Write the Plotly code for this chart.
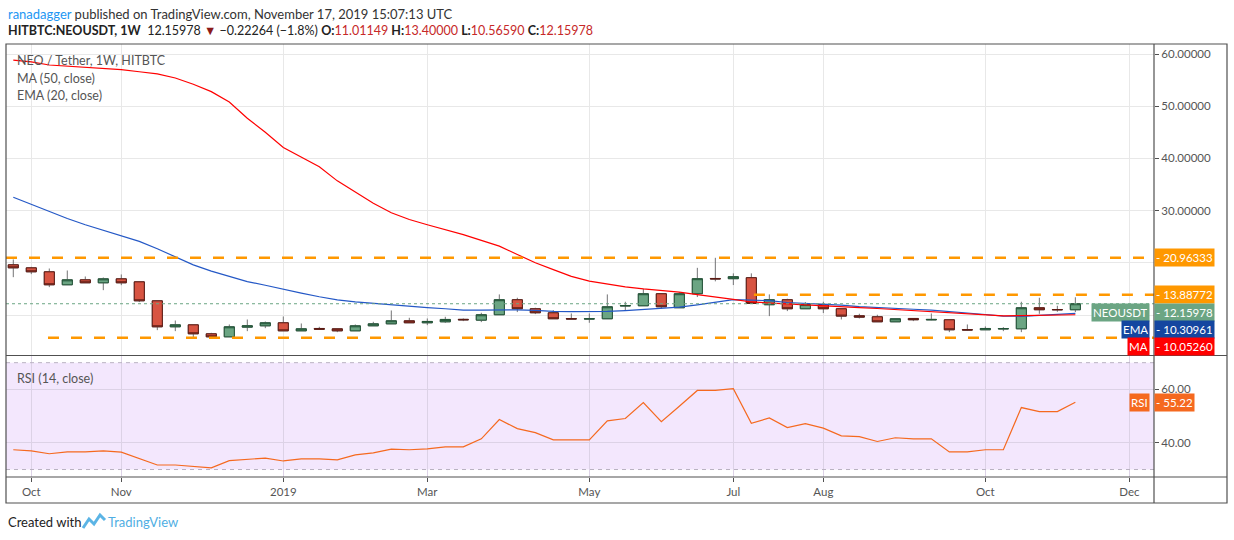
import numpy as np
import pandas as pd
import plotly.graph_objects as go

# weekly bars, NEO / Tether (HITBTC), 1W
weeks = pd.date_range("2018-09-24", periods=60, freq="7D")

opens = [19.62, 19.04, 18.28, 15.79, 16.74, 16.17, 16.93, 16.36, 12.72, 7.74,
         8.12, 6.40, 5.82, 7.68, 7.93, 8.51, 6.97, 7.42, 7.36, 6.97,
         7.93, 8.31, 8.89, 8.51, 8.70, 9.17, 9.02, 10.05, 12.93, 11.20,
         10.43, 9.31, 9.25, 9.28, 11.74, 11.77, 14.08, 11.39, 14.08, 17.00,
         16.96, 17.15, 11.97, 12.93, 11.20, 12.03, 11.20, 9.86, 9.66, 8.70,
         9.34, 9.06, 9.09, 7.20, 7.17, 7.33, 7.36, 11.39, 11.05, 11.01149]
highs = [20.64, 19.23, 18.91, 18.53, 17.38, 17.19, 17.77, 16.36, 12.72, 8.95,
         8.12, 6.59, 8.19, 9.14, 8.76, 9.72, 8.38, 7.74, 7.36, 8.19,
         8.70, 10.87, 9.47, 9.34, 9.66, 9.34, 10.43, 13.95, 13.31, 11.39,
         10.94, 10.30, 10.30, 13.95, 12.54, 15.04, 14.08, 14.40, 19.04, 20.96,
         17.98, 17.98, 13.95, 13.12, 12.48, 12.54, 11.20, 10.24, 10.05, 9.28,
         9.34, 10.30, 9.09, 8.19, 7.81, 7.68, 12.54, 13.31, 11.78, 13.40000]
lows = [17.25, 17.83, 15.34, 15.79, 16.17, 14.76, 15.72, 12.47, 7.10, 6.91,
        5.76, 5.82, 5.82, 6.91, 7.48, 6.97, 6.97, 7.29, 6.72, 6.97,
        7.93, 8.31, 8.51, 8.06, 8.51, 8.83, 8.64, 10.05, 10.56, 10.18,
        9.28, 9.25, 8.51, 9.28, 10.94, 11.77, 11.20, 11.39, 13.44, 16.45,
        15.74, 12.22, 9.79, 10.75, 11.20, 10.37, 9.15, 9.34, 8.70, 8.70,
        8.83, 9.00, 6.72, 7.04, 7.17, 6.91, 6.72, 10.24, 10.62, 10.56590]
closes = [19.04, 18.28, 15.79, 16.74, 16.17, 16.93, 16.17, 12.72, 7.74, 8.12,
          6.40, 5.82, 7.74, 7.93, 8.51, 6.97, 7.36, 7.29, 6.97, 7.93,
          8.31, 8.89, 8.51, 8.77, 9.15, 9.09, 10.05, 12.93, 11.20, 10.43,
          9.28, 9.25, 9.28, 11.58, 11.80, 14.08, 11.58, 14.08, 16.96, 16.92,
          17.34, 12.22, 12.93, 11.20, 12.03, 11.20, 9.79, 9.60, 8.70, 9.28,
          9.09, 9.15, 7.17, 7.14, 7.42, 7.40, 11.39, 11.01, 11.01, 12.15978]

ma50 = [58.85, 58.5, 57.9, 57.7, 57.45, 57.2, 57.0, 56.6, 56.2, 55.4,
        54.2, 52.8, 50.8, 47.7, 45.0, 42.1, 40.2, 38.4, 35.7, 33.6,
        31.4, 29.6, 28.3, 27.3, 26.4, 25.4, 24.3, 23.2, 21.6, 20.0,
        18.7, 17.4, 16.5, 15.9, 15.4, 15.0, 14.7, 14.4, 13.9, 13.5,
        13.0, 12.5, 12.3, 12.1, 11.9, 11.75, 11.55, 11.4, 11.25, 11.05,
        10.8, 10.6, 10.4, 10.25, 10.1, 9.85, 9.9, 9.95, 10.0, 10.0526]
ema20 = [32.55, 31.2, 29.8, 28.5, 27.3, 26.2, 25.2, 24.1, 22.7, 21.1,
         19.6, 18.4, 17.4, 16.4, 15.7, 14.9, 14.2, 13.5, 12.9, 12.5,
         12.2, 11.9, 11.65, 11.4, 11.2, 10.95, 10.95, 11.0, 11.0, 10.9,
         10.7, 10.65, 10.62, 10.7, 10.85, 11.07, 11.3, 11.52, 11.95, 12.4,
         12.95, 12.85, 12.75, 12.4, 12.25, 12.1, 11.9, 11.6, 11.4, 11.25,
         11.1, 10.95, 10.7, 10.4, 10.1, 9.8, 9.75, 9.95, 10.15, 10.30961]
rsi14 = [37.4, 37.0, 35.9, 36.6, 36.6, 37.0, 36.5, 34.2, 31.7, 31.7,
         31.1, 30.6, 33.3, 33.7, 34.3, 33.2, 34.0, 34.0, 33.6, 35.5,
         36.2, 37.6, 37.4, 37.7, 38.5, 38.5, 41.5, 48.7, 45.3, 43.8,
         41.1, 41.1, 41.1, 48.2, 49.1, 55.1, 47.9, 53.7, 59.6, 59.6,
         60.25, 47.3, 49.3, 45.7, 47.2, 45.5, 42.6, 42.3, 40.5, 41.9,
         41.5, 41.5, 36.6, 36.6, 37.4, 37.4, 53.2, 51.7, 51.7, 55.22]

resistance_top = 20.96333
resistance_mid = 13.88772
support_low = 5.63
mid_start = "2019-07-09"
low_start = "2018-10-07 12:00"

tick_dates = ["2018-10-01", "2018-11-05", "2019-01-07", "2019-03-04", "2019-05-06",
              "2019-07-01", "2019-08-05", "2019-10-07", "2019-12-02"]
tick_text = ["Oct", "Nov", "2019", "Mar", "May", "Jul", "Aug", "Oct", "Dec"]
x_range = ["2018-09-21 04:00", "2019-12-11 14:00"]

price_ticks = [10, 20, 30, 40, 50, 60]
# 10 and 20 sit behind the coloured price labels
price_tick_text = ["", "", "30.00000", "40.00000", "50.00000", "60.00000"]

FONT = "Lato"
ORANGE = "#FF9800"
GREEN = "#6BA583"
RED = "#D75442"
EMA_BLUE = "#1446A0"
RSI_ORANGE = "#F5691F"

# pixel -> paper helpers (plot area is 6..1154 x 44..477)
L, R, T, B = 6, 1154, 44, 477


def px(x):
    return (x - L) / (R - L)


def py(y):
    return (B - y) / (B - T)


fig = go.Figure()

# wicks (grey) underneath, bodies on top
fig.add_trace(go.Candlestick(
    x=weeks, open=opens, high=highs, low=lows, close=closes,
    increasing=dict(line=dict(color="#737375", width=1), fillcolor="#737375"),
    decreasing=dict(line=dict(color="#737375", width=1), fillcolor="#737375"),
    whiskerwidth=0, hoverinfo="skip", xaxis="x", yaxis="y"))
fig.add_trace(go.Candlestick(
    x=weeks, open=opens, close=closes,
    high=np.maximum(opens, closes), low=np.minimum(opens, closes),
    increasing=dict(line=dict(color="#225437", width=1), fillcolor=GREEN),
    decreasing=dict(line=dict(color="#5B1A13", width=1), fillcolor=RED),
    whiskerwidth=0, xaxis="x", yaxis="y"))

fig.add_trace(go.Scatter(x=weeks, y=ema20, mode="lines",
                         line=dict(color="#2458C6", width=1.2), xaxis="x", yaxis="y"))
fig.add_trace(go.Scatter(x=weeks, y=ma50, mode="lines",
                         line=dict(color="#FF0000", width=1.2), xaxis="x", yaxis="y"))
fig.add_trace(go.Scatter(x=weeks, y=rsi14, mode="lines",
                         line=dict(color=RSI_ORANGE, width=1.2), xaxis="x2", yaxis="y2"))

shapes = [
    # RSI band
    dict(type="rect", xref="paper", yref="y2", x0=0, x1=1, y0=30, y1=70,
         fillcolor="#F3E7FD", line=dict(width=0), layer="below"),
    dict(type="line", xref="paper", yref="y2", x0=0, x1=1, y0=70, y1=70,
         line=dict(color="#B9B2C2", width=1, dash="4px,4px")),
    dict(type="line", xref="paper", yref="y2", x0=0, x1=1, y0=30, y1=30,
         line=dict(color="#B9B2C2", width=1, dash="4px,4px")),
    # horizontal levels
    dict(type="line", xref="paper", yref="y", x0=0, x1=1, y0=resistance_top, y1=resistance_top,
         line=dict(color=ORANGE, width=2.5, dash="11px,12px")),
    dict(type="line", xref="x", yref="y", x0=mid_start, x1=x_range[1],
         y0=resistance_mid, y1=resistance_mid,
         line=dict(color=ORANGE, width=2.5, dash="11px,12px")),
    dict(type="line", xref="x", yref="y", x0=low_start, x1=x_range[1],
         y0=support_low, y1=support_low,
         line=dict(color=ORANGE, width=2.5, dash="11px,12px")),
    dict(type="line", xref="paper", yref="y", x0=0, x1=1, y0=closes[-1], y1=closes[-1],
         line=dict(color=GREEN, width=1, dash="dot")),
    # frame
    dict(type="rect", xref="paper", yref="paper", x0=0, x1=px(1227), y0=py(503), y1=1,
         line=dict(color="#505050", width=1.2)),
    dict(type="line", xref="paper", yref="paper", x0=1, x1=1, y0=py(503), y1=1,
         line=dict(color="#505050", width=1.2)),
    dict(type="line", xref="paper", yref="paper", x0=0, x1=px(1227), y0=py(355.5), y1=py(355.5),
         line=dict(color="#505050", width=1.2)),
    dict(type="line", xref="paper", yref="paper", x0=0, x1=px(1227), y0=0, y1=0,
         line=dict(color="#505050", width=1.2)),
    # TradingView logo squiggle
    dict(type="path", xref="paper", yref="paper",
         path="M {} {} L {} {} L {} {} L {} {} L {} {}".format(
             px(83), py(528), px(89), py(519), px(94), py(524), px(100), py(515), px(105), py(520)),
         line=dict(color="#5BB4E5", width=3)),
]

red = "#C62828"
header2 = ("<b>HITBTC:NEOUSDT, 1W</b>  {c:.5f} <span style='color:#8B1A1A'>▼</span> "
           "−0.22264 (−1.8%) <b>O:</b><span style='color:{r}'>{o:.5f}</span> "
           "<b>H:</b><span style='color:{r}'>{h:.5f}</span> "
           "<b>L:</b><span style='color:{r}'>{l:.5f}</span> "
           "<b>C:</b><span style='color:{r}'>{c:.5f}</span>").format(
    c=closes[-1], o=opens[-1], h=highs[-1], l=lows[-1], r=red)

ann = [
    dict(text="<span style='color:#2196F3'>ranadagger</span> published on TradingView.com, "
              "November 17, 2019 15:07:13 UTC",
         x=0, y=py(14), font=dict(size=13, color="#333333")),
    dict(text=header2, x=0, y=py(30), font=dict(size=12.5, color="#222222")),
    dict(text="NEO / Tether, 1W, HITBTC", x=px(15), y=py(60), font=dict(size=12.5, color="#555555")),
    dict(text="MA (50, close)", x=px(15), y=py(79), font=dict(size=12.5, color="#555555")),
    dict(text="EMA (20, close)", x=px(15), y=py(96), font=dict(size=12.5, color="#555555")),
    dict(text="RSI (14, close)", x=px(15), y=py(378), font=dict(size=12.5, color="#555555")),
    dict(text="Created with", x=0, y=py(522), font=dict(size=13, color="#222222")),
    dict(text="TradingView", x=px(106), y=py(522), font=dict(size=13, color="#4FAEE3")),
]
for a in ann:
    a.update(xref="paper", yref="paper", xanchor="left", yanchor="middle", showarrow=False)

# price-scale labels: (text, value, colour, pixel shift, side name, axis)
labels = [
    ("{:.5f}".format(resistance_top), resistance_top, ORANGE, 0, None, "y"),
    ("{:.5f}".format(resistance_mid), resistance_mid, ORANGE, 0, None, "y"),
    ("{:.5f}".format(closes[-1]), closes[-1], GREEN, -8.8, "NEOUSDT", "y"),
    ("{:.5f}".format(ema20[-1]), ema20[-1], EMA_BLUE, -16, "EMA", "y"),
    ("{:.5f}".format(ma50[-1]), ma50[-1], "#FF0000", -31.8, "MA", "y"),
    ("{:.2f}".format(rsi14[-1]), rsi14[-1], RSI_ORANGE, 0, "RSI", "y2"),
]
for text, val, col, shift, name, yr in labels:
    ann.append(dict(text="- " + text, x=1, xref="paper", y=val, yref=yr, yshift=shift,
                    xanchor="left", yanchor="middle", showarrow=False, align="left",
                    bgcolor=col, height=15, borderpad=1,
                    font=dict(size=11.5, color="white", family=FONT)))
    if name:
        ann.append(dict(text=name, x=1, xref="paper", xshift=-4, y=val, yref=yr, yshift=shift,
                        xanchor="right", yanchor="middle", showarrow=False,
                        bgcolor=col, height=15, borderpad=1,
                        font=dict(size=11.5, color="white", family=FONT)))

fig.update_layout(
    width=1234, height=540,
    margin=dict(l=L, r=1234 - R, t=T, b=540 - B),
    paper_bgcolor="white", plot_bgcolor="white",
    font=dict(family=FONT, size=11, color="#4C4C4C"),
    showlegend=False,
    boxgap=0.44, boxgroupgap=0,
    hovermode=False,
    xaxis=dict(domain=[0, 1], anchor="y", type="date", range=x_range,
               tickmode="array", tickvals=tick_dates, ticktext=tick_text,
               showticklabels=False, showgrid=True, gridcolor="#E8E8E8",
               zeroline=False, showline=False, rangeslider=dict(visible=False)),
    xaxis2=dict(domain=[0, 1], anchor="y2", type="date", range=x_range, matches="x",
                tickmode="array", tickvals=tick_dates, ticktext=tick_text,
                ticks="outside", ticklen=4, tickcolor="#505050",
                tickfont=dict(size=11.5, color="#555555"),
                showgrid=True, gridcolor="#DCD2E6", zeroline=False, showline=False,
                rangeslider=dict(visible=False)),
    yaxis=dict(domain=[py(355), 1], anchor="x", side="right", range=[2.34, 61.92],
               tickmode="array", tickvals=price_ticks, ticktext=price_tick_text,
               ticks="outside", ticklen=4, tickcolor="#505050",
               tickfont=dict(size=11.5, color="#555555"),
               showgrid=True, gridcolor="#E8E8E8", zeroline=False, showline=False),
    yaxis2=dict(domain=[0, py(356)], anchor="x2", side="right", range=[27.2, 72.5],
                tickmode="array", tickvals=[40, 60], tickformat=".2f",
                ticks="outside", ticklen=4, tickcolor="#505050",
                tickfont=dict(size=11.5, color="#555555"),
                showgrid=True, gridcolor="#DCD2E6", zeroline=False, showline=False),
    shapes=shapes,
    annotations=ann,
)

fig.write_html("out.html", config={"displayModeBar": False},
               post_script="document.body.style.margin='0';")
